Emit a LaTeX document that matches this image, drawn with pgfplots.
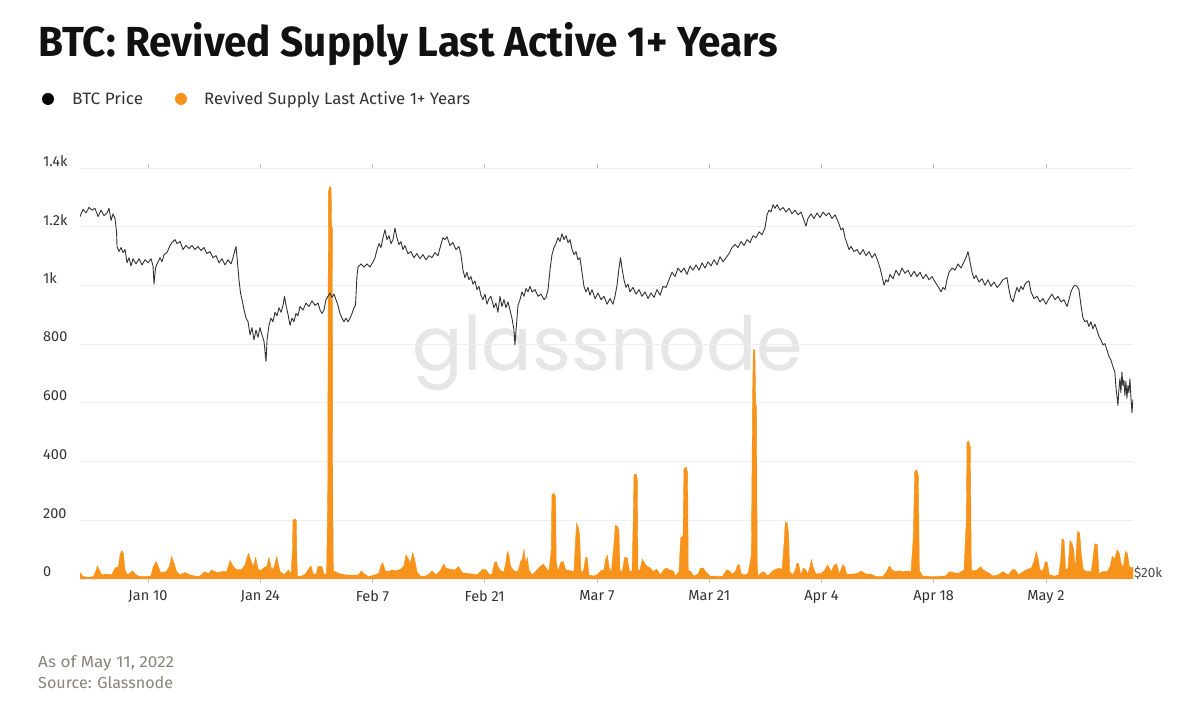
\documentclass[border=0pt]{standalone}
\usepackage{fontspec}
\setmainfont{Fira Sans}
\newfontfamily\wmfont{Poppins}
\usepackage{graphicx}
\usepackage{pgfplots}
\usepackage{pgfplotstable}
\pgfplotsset{compat=1.18}
\definecolor{btcorange}{HTML}{F7931A}
\definecolor{gridgray}{HTML}{EEEEEE}
\definecolor{labelgray}{HTML}{333333}
\definecolor{footgray}{HTML}{86867A}
\definecolor{wmgray}{HTML}{E6E6E6}
\definecolor{titleblack}{HTML}{111111}

\pgfplotstableread{
day value
0.52 22
0.94 8
1.56 6
2.18 8
2.47 25
2.68 45
2.93 31
3.22 14
3.85 17
4.47 14
4.89 37
5.30 42
5.51 82
5.72 97
5.93 88
6.13 31
6.42 14
6.84 22
7.09 28
7.38 17
7.80 10
8.63 8
9.34 10
9.67 42
10.00 60
10.29 42
10.58 22
11.25 25
11.66 42
11.95 77
12.25 54
12.58 25
12.99 14
13.62 22
14.24 14
14.86 10
15.49 10
16.11 25
16.53 17
16.94 31
17.57 22
18.19 25
18.82 25
19.23 63
19.65 42
20.06 31
20.69 33
21.10 48
21.52 88
21.81 65
22.14 42
22.43 74
22.76 31
23.18 31
23.51 40
23.80 42
24.10 74
24.43 31
24.76 42
25.05 77
25.47 25
25.97 14
26.51 31
26.84 17
27.02 100
27.08 200
27.30 205
27.50 200
27.58 60
27.65 10
28.20 10
28.62 17
29.12 37
29.33 45
29.58 19
29.95 14
30.20 42
30.70 42
30.95 17
31.28 17
31.42 300
31.50 1320
31.70 1338
31.85 1330
31.90 1202
32.00 1195
32.05 300
32.12 25
32.37 25
32.78 19
33.61 14
34.65 13
35.28 14
35.61 28
35.90 19
36.52 8
37.15 13
37.77 19
38.10 48
38.27 56
38.60 28
39.02 25
39.43 31
39.93 28
40.47 33
40.89 42
41.18 82
41.51 67
41.72 54
42.01 90
42.26 67
42.55 25
42.97 10
43.59 10
44.09 17
44.42 28
44.92 14
45.46 28
45.88 51
46.17 37
46.71 33
47.25 31
47.75 42
48.17 22
48.79 19
49.41 17
50.04 14
50.74 33
51.16 31
51.58 14
51.91 17
52.20 54
52.41 60
52.74 37
53.16 25
53.40 25
53.65 60
53.82 94
54.02 82
54.23 42
54.65 28
55.15 25
55.48 60
55.69 67
55.90 102
56.10 54
56.31 74
56.52 31
56.93 14
57.43 28
57.89 42
58.31 51
58.60 40
59.01 25
59.30 100
59.38 285
59.60 293
59.85 280
59.92 60
60.14 25
60.47 56
60.80 60
61.09 31
61.72 28
62.13 25
62.30 120
62.46 191
62.67 175
62.84 150
63.00 25
63.30 25
63.59 74
63.80 71
64.00 14
64.63 10
65.13 17
65.46 28
65.87 31
66.08 67
66.29 82
66.54 37
66.79 25
67.12 120
67.29 183
67.54 180
67.74 165
67.87 30
68.16 25
68.45 74
68.78 71
69.08 25
69.37 28
69.53 200
69.62 355
69.87 358
70.03 340
70.12 30
70.36 31
70.66 67
70.95 54
71.28 42
71.70 37
71.99 25
72.44 33
72.94 14
73.36 33
73.65 37
74.07 31
74.52 28
74.81 10
75.23 25
75.44 140
75.73 148
75.85 375
76.14 382
76.31 360
76.39 30
76.69 25
77.10 10
77.60 17
77.93 37
78.27 37
78.56 25
79.10 10
79.60 10
80.06 8
80.68 10
81.18 31
81.51 28
81.85 17
82.26 25
82.55 48
82.76 48
83.01 17
83.51 14
83.84 19
84.09 54
84.26 82
84.40 600
84.50 782
84.70 780
84.80 594
84.90 590
85.00 40
85.10 10
85.67 25
85.92 22
86.30 10
86.92 28
87.33 33
87.75 37
88.08 31
88.33 120
88.50 195
88.75 190
88.91 150
89.04 25
89.41 14
89.75 31
89.95 54
90.16 51
90.41 14
90.74 37
90.99 33
91.28 17
91.58 42
91.74 67
91.99 37
92.32 17
92.95 19
93.36 28
93.78 48
94.20 25
94.61 48
94.90 51
95.23 17
95.65 48
95.90 42
96.15 17
96.90 17
97.52 19
97.94 27
98.56 17
99.18 17
99.81 8
100.64 8
101.14 25
101.47 45
101.80 31
102.22 25
102.72 28
103.13 25
103.76 27
104.17 25
104.47 150
104.63 365
104.88 372
105.09 350
105.21 30
105.63 10
106.13 10
106.71 8
107.54 8
107.95 10
108.45 10
108.99 25
109.41 22
110.03 19
110.45 25
110.78 31
111.07 200
111.15 465
111.36 471
111.57 450
111.70 30
112.03 28
112.44 31
112.86 42
113.15 31
113.77 22
114.40 10
115.02 14
115.65 25
116.27 14
116.89 33
117.18 31
117.60 14
118.14 25
118.68 33
119.18 37
119.51 60
119.80 94
120.01 71
120.26 31
120.63 28
120.93 60
121.18 56
121.42 14
122.09 10
122.59 14
122.84 65
123.00 136
123.25 134
123.46 31
123.75 37
124.00 131
124.25 122
124.46 99
124.67 31
124.92 162
125.21 157
125.42 82
125.67 31
126.17 25
126.66 25
127.08 120
127.41 117
127.62 19
128.12 25
128.66 25
128.99 42
129.28 77
129.58 67
129.87 99
130.16 88
130.41 48
130.66 42
130.91 94
131.16 88
131.41 42
131.74 37
131.86 42
}\revived

\pgfplotstableread{
day price
0.52 46300
0.90 47100
1.27 46700
1.65 47300
2.02 47000
2.39 47200
2.77 46300
3.14 47000
3.52 46400
3.89 46700
4.14 47200
4.39 45900
4.64 46600
4.89 46100
5.08 44700
5.14 43200
5.39 42700
5.64 43100
5.89 42600
6.14 42900
6.39 41600
6.64 42100
6.88 41300
7.13 42000
7.51 41500
7.88 42000
8.26 41400
8.63 41900
9.00 41600
9.38 42000
9.63 41300
9.75 39600
9.94 41100
10.13 41500
10.50 42100
10.75 41700
11.00 42400
11.37 42600
11.75 43300
12.00 43600
12.37 43900
12.62 43500
13.00 43700
13.37 42900
13.74 43300
14.12 43000
14.49 43300
14.87 42900
15.24 43200
15.62 42800
15.99 43100
16.36 42500
16.74 42700
17.11 42100
17.49 42300
17.86 41600
18.23 42000
18.61 41400
18.98 41900
19.36 41500
19.61 42100
19.86 42900
19.98 43200
20.17 41600
20.35 40000
20.54 38800
20.73 38200
20.98 37300
21.23 36600
21.48 36300
21.73 35200
21.97 35800
22.22 34800
22.47 35600
22.72 35000
22.97 35800
23.22 35200
23.47 34700
23.72 33100
23.85 34800
24.09 36000
24.34 36600
24.59 36300
24.84 37100
25.09 36800
25.34 37500
25.59 37100
25.84 37700
26.03 38500
26.22 37700
26.47 36900
26.72 36000
26.96 36600
27.21 36300
27.46 37000
27.71 36800
27.96 37600
28.34 37300
28.71 37900
29.08 37600
29.46 38100
29.83 37700
30.21 37900
30.46 37300
30.71 37000
30.95 37300
31.20 38200
31.45 38500
31.70 38800
31.95 38400
32.20 38700
32.45 38200
32.70 37700
32.95 37000
33.20 36600
33.45 36300
33.70 36600
33.95 36300
34.20 36600
34.45 37000
34.70 37500
34.88 37700
35.07 40400
35.20 41200
35.57 41500
35.95 41200
36.32 41500
36.69 41200
37.07 41700
37.32 42100
37.57 42900
37.82 43500
38.06 43100
38.31 44100
38.56 44900
38.81 43900
39.06 44300
39.31 43500
39.56 43900
39.80 45100
40.05 44100
40.30 43400
40.55 43700
40.80 42900
41.05 43300
41.42 42500
41.80 42700
42.17 42100
42.54 42500
42.92 42000
43.29 42400
43.67 41900
44.04 42300
44.42 42100
44.79 42600
45.17 42300
45.54 43400
45.79 44100
46.04 43900
46.29 44200
46.66 43300
47.04 43600
47.41 42900
47.79 43200
48.04 42400
48.29 40900
48.53 40200
48.78 40700
49.03 40000
49.28 40300
49.53 39600
49.78 39900
50.03 39100
50.28 39400
50.53 38600
50.78 38200
51.03 38700
51.28 37800
51.53 38300
51.78 38500
52.15 37500
52.40 37900
52.65 37100
52.90 38500
53.15 37600
53.40 38200
53.65 37500
53.90 38000
54.15 37300
54.40 36600
54.65 35600
54.77 34400
54.96 36000
55.15 37700
55.40 38200
55.65 38900
55.90 38500
56.15 39200
56.40 38900
56.65 39400
56.90 38900
57.27 39100
57.65 38500
58.02 38700
58.40 38200
58.65 38400
58.90 39100
59.14 40900
59.39 42400
59.64 43100
59.89 43500
60.14 44100
60.39 43700
60.64 44500
60.89 43900
61.14 44300
61.39 43600
61.64 43900
61.89 42900
62.14 42400
62.39 42700
62.63 41900
62.88 42100
63.13 40700
63.38 39400
63.63 38900
63.88 39300
64.13 38600
64.38 39100
64.76 38300
65.13 38800
65.51 38200
65.88 38500
66.26 37800
66.63 38300
67.00 37800
67.25 38500
67.50 39500
67.75 41100
67.94 42100
68.12 41100
68.37 40000
68.62 39300
68.87 39600
69.12 38900
69.50 39300
69.87 38700
70.25 39100
70.62 38500
71.00 38900
71.37 38300
71.74 38800
72.12 38400
72.49 39100
72.87 38600
73.24 39400
73.62 39300
73.99 40000
74.36 40700
74.74 40300
75.11 41100
75.49 40700
75.86 41100
76.23 40500
76.61 41300
76.98 40900
77.36 41400
77.73 40900
78.11 41600
78.48 41100
78.85 41700
79.23 41300
79.60 41900
79.98 41400
80.35 42200
80.73 41700
81.10 42100
81.47 42500
81.85 43100
82.22 43400
82.60 43100
82.97 43700
83.35 43300
83.72 43900
84.09 43600
84.47 44300
84.84 44100
85.22 44700
85.59 44400
85.96 45100
86.21 46500
86.46 47000
86.71 46800
86.96 47600
87.21 47200
87.46 47600
87.83 47000
88.21 47300
88.58 46800
88.96 47200
89.33 46600
89.70 47000
90.08 46500
90.45 46800
90.83 45900
91.07 45300
91.32 46100
91.70 46600
92.07 46100
92.45 46700
92.82 46200
93.20 46800
93.57 46400
93.94 46700
94.32 46100
94.69 46500
95.07 45800
95.44 44900
95.69 45100
95.94 44100
96.19 43500
96.44 42900
96.69 43200
97.06 42700
97.44 42900
97.81 42400
98.19 42900
98.56 42300
98.93 42700
99.31 42100
99.68 42500
100.06 41700
100.31 41100
100.56 40300
100.81 39500
101.05 40000
101.30 39800
101.55 40500
101.93 40100
102.30 40900
102.68 40400
103.05 41100
103.42 40600
103.80 40900
104.17 40300
104.55 40800
104.92 40300
105.30 40700
105.67 40100
106.04 40500
106.42 40000
106.79 40300
107.17 39800
107.54 39400
107.91 38900
108.16 39300
108.41 39100
108.66 40000
108.91 40700
109.29 41100
109.66 40900
110.04 41500
110.41 41100
110.78 41700
111.03 42100
111.28 42700
111.53 41700
111.78 40700
112.03 40100
112.28 40400
112.65 39800
113.03 40100
113.40 39500
113.77 40000
114.15 39400
114.52 39800
114.90 39300
115.27 39600
115.64 40000
115.89 40100
116.14 40200
116.39 39100
116.64 38300
116.89 38000
117.14 38700
117.39 39300
117.64 38900
117.89 39400
118.14 39100
118.39 39600
118.64 39800
118.89 39900
119.14 38900
119.51 38300
119.89 38500
120.26 38000
120.63 38300
121.01 37800
121.38 38300
121.76 38700
122.13 38200
122.50 38500
122.88 38000
123.25 38200
123.63 37600
123.88 38200
124.12 38900
124.37 39300
124.62 39500
124.87 39400
125.12 39100
125.37 37700
125.62 36600
125.87 36300
126.12 36400
126.36 35900
126.61 36300
126.86 35700
127.11 36100
127.36 35600
127.61 35100
127.86 34800
128.11 34400
128.36 34500
128.61 34000
128.86 33500
129.11 33200
129.36 32700
129.60 32300
129.73 31200
129.85 30600
129.98 29900
130.10 31000
130.23 31800
130.35 30800
130.48 32300
130.60 31300
130.73 31700
130.85 30600
130.98 31600
131.10 30400
131.23 31300
131.35 30800
131.48 31800
131.60 30500
131.73 29400
131.85 30300
}\price

\begin{document}
\begin{tikzpicture}[x=1pt,y=1pt]
\fill[white] (0,0) rectangle (1200,718);
% title
\node[anchor=base west, inner sep=0pt, text=titleblack] at (38,661)
  {\resizebox{740pt}{\height}{\fontsize{42}{42}\selectfont\bfseries BTC: Revived Supply Last Active 1+ Years}};
% legend
\fill[black] (48,619) circle (6);
\node[anchor=base west, inner sep=0pt, text=labelgray] at (72,613)
  {\resizebox{71pt}{\height}{\fontsize{16.5}{16.5}\selectfont BTC Price}};
\fill[btcorange] (181,619) circle (6);
\node[anchor=base west, inner sep=0pt, text=labelgray] at (204,613)
  {\resizebox{266pt}{\height}{\fontsize{16.5}{16.5}\selectfont Revived Supply Last Active 1+ Years}};
% footer
\node[anchor=base west, inner sep=0pt, text=footgray] at (38,50)
  {\resizebox{136pt}{\height}{\fontsize{16}{16}\selectfont As of May 11, 2022}};
\node[anchor=base west, inner sep=0pt, text=footgray] at (38,30)
  {\resizebox{135pt}{\height}{\fontsize{16}{16}\selectfont Source: Glassnode}};
% watermark
\node[anchor=base, inner sep=0pt, text=wmgray] at (608,348)
  {\resizebox{390pt}{!}{\wmfont glassnode}};

\begin{axis}[
  at={(80pt,139pt)}, anchor=south west,
  width=1053pt, height=411pt, scale only axis,
  xmin=0.52, xmax=131.86, ymin=0, ymax=1400,
  axis line style={draw=none},
  tick align=outside, major tick length=4pt,
  xtick={9,23,37,51,65,79,93,107,121},
  xticklabels={Jan 10,Jan 24,Feb 7,Feb 21,Mar 7,Mar 21,Apr 4,Apr 18,May 2},
  xtick style={draw=black!25, line width=0.6pt},
  xticklabel style={anchor=north, inner sep=0pt, yshift=-7pt, text=labelgray, font=\fontsize{14.5}{14.5}\selectfont},
  ytick={0,200,400,600,800,1000,1200,1400},
  yticklabels={0,200,400,600,800,1k,1.2k,1.4k},
  ytick style={draw=none},
  yticklabel style={anchor=west, inner sep=0pt, xshift=-33pt, yshift=7pt, text=labelgray, font=\fontsize{14.5}{14.5}\selectfont},
  ymajorgrids, grid style={draw=gridgray, line width=0.8pt},
  /pgf/number format/assume math mode=true,
]
\addplot[fill=btcorange, draw=btcorange, line width=0.4pt, line join=round] table[x=day, y=value] {\revived} \closedcycle;
\end{axis}

\begin{axis}[
  at={(80pt,139pt)}, anchor=south west,
  width=1053pt, height=411pt, scale only axis,
  xmin=0.52, xmax=131.86,
  ymode=log, ymin=20000, ymax=51832,
  axis line style={draw=none},
  xtick=\empty,
  ytick={20000}, yticklabels={\$20k},
  yticklabel pos=right,
  ytick style={draw=none},
  yticklabel style={anchor=west, inner sep=0pt, xshift=1pt, yshift=6pt, text=black!70, font=\fontsize{13.5}{13.5}\selectfont},
]
\addplot[draw=black!80, line width=0.9pt, line join=round] table[x=day, y=price] {\price};
\end{axis}
\end{tikzpicture}
\end{document}
